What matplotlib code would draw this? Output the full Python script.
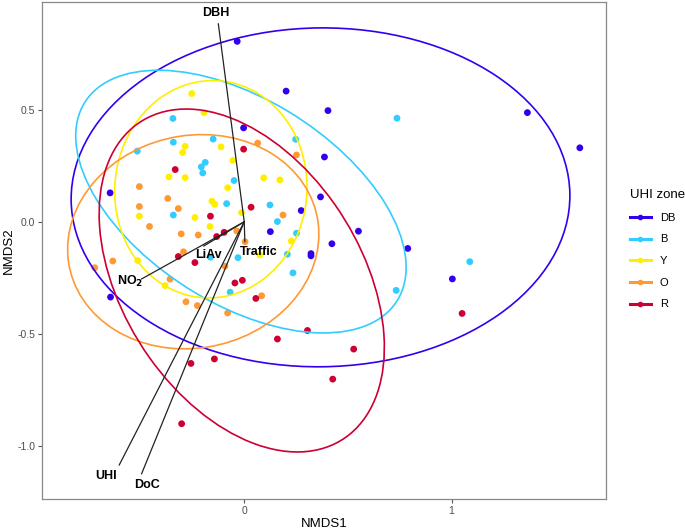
import numpy as np
import matplotlib.pyplot as plt
from matplotlib.patches import Ellipse
from matplotlib.lines import Line2D

plt.rcParams['font.family'] = ['Liberation Sans', 'DejaVu Sans']

zones = ['DB', 'B', 'Y', 'O', 'R']
colors = {'DB': '#3300EE', 'B': '#33CCFF', 'Y': '#FFEE00', 'O': '#FF9933', 'R': '#CC0033'}

# site scores (NMDS1, NMDS2) per UHI zone
db_x = [-0.034, 0.202, 0.404, 1.366, 1.619, -0.003, 0.387, -0.647, 0.368, 0.275,
        0.126, 0.551, 0.423, 0.322, 0.322, 0.789, 1.004, -0.645]
db_y = [0.805, 0.583, 0.496, 0.487, 0.330, 0.419, 0.289, 0.129, 0.111, 0.050,
        -0.044, -0.042, -0.098, -0.142, -0.152, -0.119, -0.255, -0.336]
b_x = [-0.344, 0.737, -0.150, 0.248, -0.342, -0.516, -0.188, -0.207, -0.200, -0.049,
       -0.085, 0.124, -0.342, 0.160, 0.252, 0.208, -0.030, -0.163, 1.088, 0.235,
       -0.068, 0.733]
b_y = [0.461, 0.462, 0.369, 0.368, 0.355, 0.315, 0.265, 0.245, 0.218, 0.184,
       0.081, 0.075, 0.030, 0.001, -0.051, -0.145, -0.160, -0.158, -0.178, -0.228,
       -0.314, -0.306]
y_x = [-0.253, -0.194, -0.285, -0.297, -0.112, -0.055, -0.363, -0.285, 0.094, 0.172,
       -0.080, -0.156, -0.142, -0.506, -0.238, -0.013, -0.165, 0.227, -0.514, -0.382,
       0.075]
y_y = [0.572, 0.487, 0.337, 0.309, 0.334, 0.274, 0.200, 0.197, 0.196, 0.187,
       0.152, 0.092, 0.078, 0.025, 0.019, 0.041, -0.021, -0.086, -0.173, -0.285,
       -0.148]
o_x = [0.065, 0.252, -0.506, -0.369, -0.506, -0.318, 0.187, -0.457, -0.304, -0.222,
       -0.036, 0.004, -0.293, -0.634, -0.721, -0.093, -0.358, 0.084, -0.281, -0.226,
       -0.080]
o_y = [0.351, 0.298, 0.157, 0.104, 0.068, 0.059, 0.030, -0.021, -0.054, -0.059,
       -0.041, -0.089, -0.134, -0.175, -0.205, -0.198, -0.256, -0.330, -0.357, -0.374,
       -0.407]
r_x = [-0.333, -0.003, 0.033, -0.163, -0.097, -0.133, -0.318, -0.238, -0.009, -0.045,
       0.056, 0.305, 0.160, 0.528, 1.051, -0.257, -0.144, 0.427, -0.302]
r_y = [0.233, 0.324, 0.065, 0.025, -0.047, -0.066, -0.155, -0.182, -0.261, -0.273,
       -0.342, -0.485, -0.523, -0.568, -0.409, -0.632, -0.612, -0.702, -0.901]

points = {'DB': (db_x, db_y), 'B': (b_x, b_y), 'Y': (y_x, y_y), 'O': (o_x, o_y), 'R': (r_x, r_y)}

# ellipses: centre x, centre y, half width, half height, correlation
ell_cx = [0.368, -0.016, -0.161, -0.246, -0.012]
ell_cy = [0.109, 0.090, 0.145, -0.089, -0.262]
ell_wx = [1.203, 0.797, 0.464, 0.606, 0.688]
ell_wy = [0.756, 0.586, 0.485, 0.478, 0.765]
ell_r = [0.01, -0.50, 0.02, 0.07, -0.39]

# environmental vectors
vec_names = ['DBH', 'Traffic', 'LiAv', 'NO$_\\mathbf{2}$', 'UHI', 'DoC']
vec_x = [-0.125, 0.003, -0.195, -0.495, -0.603, -0.495]
vec_y = [0.883, -0.089, -0.108, -0.255, -1.085, -1.124]
lab_x = [-0.139, 0.072, -0.174, -0.551, -0.667, -0.467]
lab_y = [0.931, -0.134, -0.148, -0.267, -1.135, -1.175]

fig = plt.figure(figsize=(6.85, 5.30), dpi=100)
ax = fig.add_axes([0.0618, 0.058, 0.8222, 0.938])

for z in zones:
    ax.scatter(points[z][0], points[z][1], s=24, color=colors[z], edgecolors='none', zorder=2)

for i, z in enumerate(zones):
    cov = np.array([[ell_wx[i] ** 2, ell_r[i] * ell_wx[i] * ell_wy[i]],
                    [ell_r[i] * ell_wx[i] * ell_wy[i], ell_wy[i] ** 2]])
    vals, vecs = np.linalg.eigh(cov)
    ang = np.degrees(np.arctan2(vecs[1, 1], vecs[0, 1]))
    e = Ellipse((ell_cx[i], ell_cy[i]), 2 * np.sqrt(vals[1]), 2 * np.sqrt(vals[0]), angle=ang,
                fill=False, edgecolor=colors[z], linewidth=1.2, zorder=3)
    ax.add_patch(e)

for i in range(len(vec_names)):
    ax.plot([0, vec_x[i]], [0, vec_y[i]], color='#222222', linewidth=0.9, zorder=4)
    ax.text(lab_x[i], lab_y[i], vec_names[i], ha='center', va='center', fontsize=9,
            fontweight='bold', color='black', zorder=5)

ax.set_xlim(-0.974, 1.743)
ax.set_ylim(-1.238, 0.98)
ax.set_xticks([0, 1])
ax.set_xticklabels(['0', '1'])
ax.set_yticks([-1.0, -0.5, 0.0, 0.5])
ax.set_yticklabels(['-1.0', '-0.5', '0.0', '0.5'])
ax.tick_params(colors='#555555', labelsize=7.5, length=3, width=0.8, labelcolor='#4D4D4D', pad=2)
for sp in ax.spines.values():
    sp.set_color('#888888')
    sp.set_linewidth(0.9)
ax.set_xlabel('NMDS1', fontsize=9.5, labelpad=1)
ax.set_ylabel('NMDS2', fontsize=9.5, labelpad=2)

handles = [Line2D([0], [0], color=colors[z], marker='o', markersize=3, linewidth=2.2, label=z)
           for z in zones]
leg = fig.legend(handles=handles, title='UHI zone', loc='upper left', bbox_to_anchor=(0.905, 0.662),
                 frameon=False, fontsize=8, title_fontsize=9.5, handlelength=1.9,
                 labelspacing=1.05, handletextpad=0.8, alignment='left')

fig.savefig('out.png', dpi=100)
